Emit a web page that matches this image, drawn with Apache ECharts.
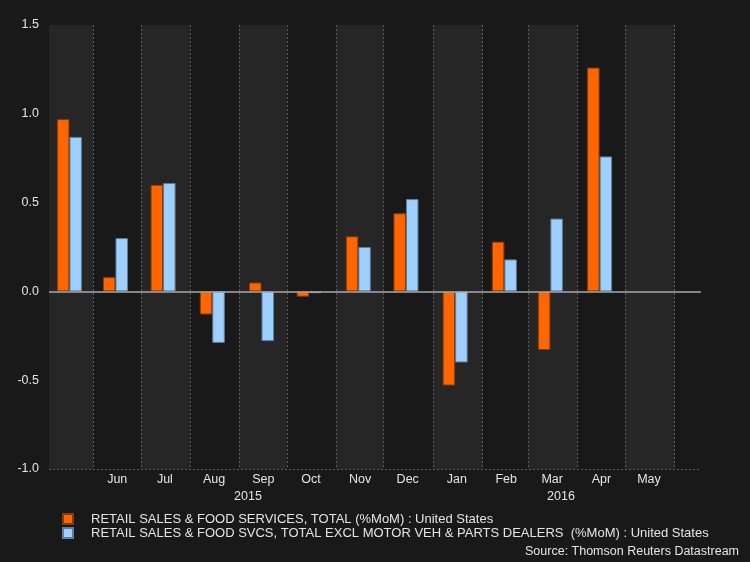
<!DOCTYPE html>
<html>
<head>
<meta charset="utf-8">
<script src="https://cdn.jsdelivr.net/npm/echarts@6/dist/echarts.min.js"></script>
<style>
html,body{margin:0;padding:0;background:#191919;}
#chart{width:750px;height:562px;}
</style>
</head>
<body>
<div id="chart"></div>
<script>
// Data (monthly % change, plotted mid-month)
const months = ['2015-05-17','2015-06-15','2015-07-15','2015-08-15','2015-09-15','2015-10-15',
                '2015-11-15','2015-12-15','2016-01-15','2016-02-15','2016-03-15','2016-04-15'];
const retailTotal  = [0.97, 0.08, 0.60, -0.13, 0.05, -0.03, 0.31, 0.44, -0.53, 0.28, -0.33, 1.26];
const retailExAuto = [0.87, 0.30, 0.61, -0.29, -0.28, -0.01, 0.25, 0.52, -0.40, 0.18, 0.41, 0.76];
const monthNames = ['Jan','Feb','Mar','Apr','May','Jun','Jul','Aug','Sep','Oct','Nov','Dec'];
const yearLabels = ['2015','2016'];
const seriesNames = [
  'RETAIL SALES & FOOD SERVICES, TOTAL (%MoM) : United States',
  'RETAIL SALES & FOOD SVCS, TOTAL EXCL MOTOR VEH & PARTS DEALERS  (%MoM) : United States'
];
const sourceText = 'Source: Thomson Reuters Datastream';

const FONT = '"Liberation Sans", Arial, sans-serif';
const TXT = '#e4e4e4';
const GRID = '#5c5c5c';
const DAY = 86400000;
const toTime = s => { const p = s.split('-').map(Number); return new Date(p[0], p[1] - 1, p[2]).getTime(); };

const chart = echarts.init(document.getElementById('chart'));
const option = {
  backgroundColor: '#191919',
  animation: false,
  textStyle: {fontFamily: FONT},
  grid: {left: 49, right: 49, top: 25, bottom: 93},
  xAxis: {
    type: 'time',
    // ECharts widens the time extent by half a bar group on each side
    min: toTime('2015-05-12'),
    max: toTime('2016-06-10'),
    minInterval: 28 * DAY,
    maxInterval: 31 * DAY,
    axisLine: {show: false},
    axisTick: {show: false},
    splitLine: {show: true, showMinLine: false, showMaxLine: false,
                lineStyle: {color: GRID, type: [2, 2], width: 1}},
    splitArea: {show: true, areaStyle: {color: ['#262626', '#191919']}},
    axisLabel: {
      color: TXT, fontSize: 12.5, fontFamily: FONT, margin: 4,
      padding: [0, 0, 0, 48],
      formatter: function (v) {
        const d = new Date(v);
        if (d.getDate() !== 1) return '';
        if (d.getFullYear() === 2016 && d.getMonth() === 5) return '';
        return monthNames[d.getMonth()];
      }
    }
  },
  yAxis: {
    type: 'value',
    min: -1, max: 1.5, interval: 0.5,
    axisLine: {show: false},
    axisTick: {show: false},
    splitLine: {show: true, lineStyle: {color: GRID, type: [2, 2], width: 1}},
    axisLabel: {color: TXT, fontSize: 12.5, fontFamily: FONT, margin: 10,
                formatter: v => v.toFixed(1)}
  },
  legend: {
    orient: 'vertical', left: 62, top: 512, padding: 0,
    itemWidth: 10, itemHeight: 10, itemGap: 0,
    icon: 'rect',
    textStyle: {color: TXT, fontSize: 13, lineHeight: 14, fontFamily: FONT, padding: [0, 0, 0, 13]},
    data: seriesNames
  },
  series: [
    {
      name: seriesNames[0], type: 'bar', barWidth: 12.5, barGap: '0%',
      itemStyle: {color: '#ff6600', borderColor: '#8a3a08', borderWidth: 1},
      data: months.map((m, i) => [toTime(m), retailTotal[i]]),
      markLine: {
        silent: true, symbol: 'none', label: {show: false},
        lineStyle: {color: '#a8a8a8', type: 'solid', width: 1.5},
        data: [{yAxis: 0}]
      }
    },
    {
      name: seriesNames[1], type: 'bar', barWidth: 12.5, barGap: '0%',
      itemStyle: {color: '#9dcfff', borderColor: '#5f7d9c', borderWidth: 1},
      data: months.map((m, i) => [toTime(m), retailExAuto[i]])
    }
  ],
  graphic: [
    {type: 'text', x: 248, y: 497, style: {text: yearLabels[0], fill: TXT, font: '12.5px ' + FONT,
      align: 'center', verticalAlign: 'middle', textAlign: 'center', textVerticalAlign: 'middle'}},
    {type: 'text', x: 561, y: 497, style: {text: yearLabels[1], fill: TXT, font: '12.5px ' + FONT,
      align: 'center', verticalAlign: 'middle', textAlign: 'center', textVerticalAlign: 'middle'}},
    {type: 'text', x: 739, y: 552, style: {text: sourceText, fill: TXT, font: '12.5px ' + FONT,
      align: 'right', verticalAlign: 'middle', textAlign: 'right', textVerticalAlign: 'middle'}}
  ]
};
chart.setOption(option);
</script>
</body>
</html>
